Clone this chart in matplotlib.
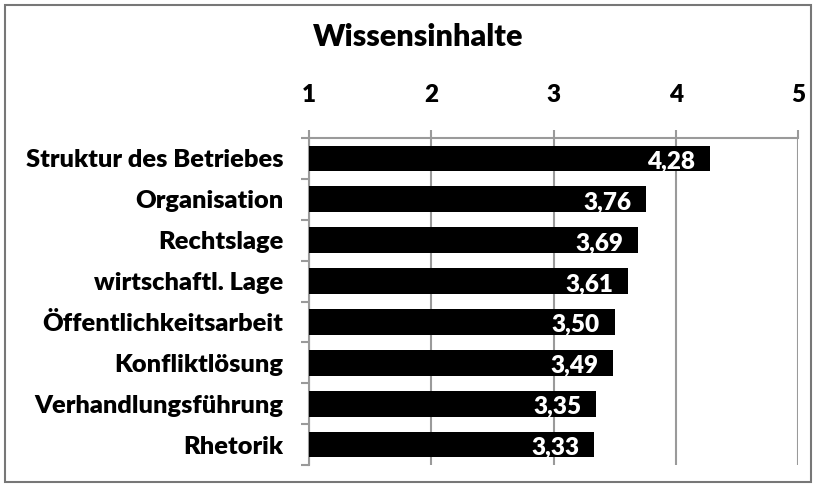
import matplotlib
matplotlib.use("Agg")
import matplotlib.pyplot as plt
from matplotlib.patches import Rectangle

categories = ["Struktur des Betriebes", "Organisation", "Rechtslage", "wirtschaftl. Lage",
              "Öffentlichkeitsarbeit", "Konfliktlösung", "Verhandlungsführung", "Rhetorik"]
values = [4.28, 3.76, 3.69, 3.61, 3.50, 3.49, 3.35, 3.33]
xticks = [1, 2, 3, 4, 5]
title = "Wissensinhalte"

plt.rcParams['font.family'] = ['Lato', 'DejaVu Sans']
W = 'heavy'

fig = plt.figure(figsize=(8.17, 4.84), dpi=100)
ax = fig.add_axes([309/817, 1-465/484, (798-309)/817, (465-138)/484])

gray = '#9a9a9a'
ypos = list(range(len(categories)))
ax.barh(ypos, [v - 1 for v in values], left=1, height=0.63, color='black', zorder=3)
for y, v in zip(ypos, values):
    ax.text(v - 0.12, y + 0.07, f"{v:.2f}".replace('.', ','), ha='right', va='center',
            color='white', fontsize=17.5, fontweight=W, zorder=4)

ax.set_xlim(1, 5)
ax.set_ylim(len(categories) - 0.5, -0.5)
ax.xaxis.tick_top()
ax.set_xticks(xticks)
ax.set_xticklabels([str(t) for t in xticks], fontsize=17.5, fontweight=W)
ax.tick_params(axis='x', which='major', length=6, color=gray, width=1.5, pad=17)
ax.grid(axis='x', color=gray, linewidth=1.5, zorder=0)

ax.set_yticks(ypos)
ax.set_yticklabels(categories, fontsize=18.3, fontweight=W)
ax.tick_params(axis='y', which='major', length=0, pad=18.5)
ax.set_yticks([i - 0.5 for i in range(len(categories) + 1)], minor=True)
ax.tick_params(axis='y', which='minor', length=6, color=gray, width=1.5)

for s in ['right', 'bottom']:
    ax.spines[s].set_visible(False)
for s in ['top', 'left']:
    ax.spines[s].set_color(gray)
    ax.spines[s].set_linewidth(1.5)

fig.text(418/817, 1-37/484, title, ha='center', va='center', fontsize=22, fontweight=W)

fig.patches.append(Rectangle((5/817, 0.005), (811-5)/817, 1-5/484-0.005, transform=fig.transFigure,
                             fill=False, edgecolor='#777777', linewidth=1.5))

fig.savefig("out.png", dpi=100)
